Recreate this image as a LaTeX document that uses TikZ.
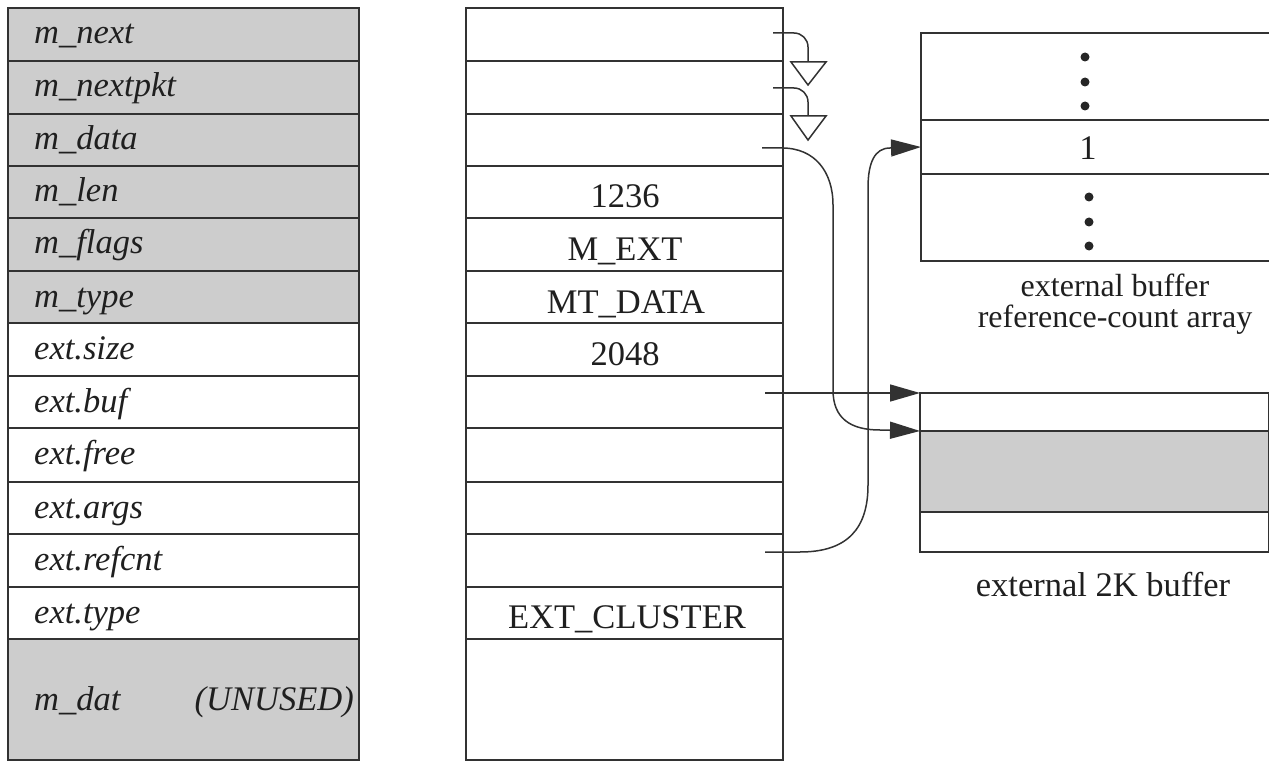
\documentclass[tikz,border=0pt]{standalone}
\usepackage{fontspec}
\setmainfont{Liberation Serif}
\usetikzlibrary{arrows.meta,calc}
\definecolor{cellgray}{RGB}{205,205,205}
\definecolor{ink}{RGB}{50,50,50}
\tikzset{
  cell/.style={draw=ink, line width=1.8pt, inner sep=0pt, outer sep=0pt, anchor=north west},
  lab/.style={inner sep=0pt, anchor=base west, text=black!88, font=\fontsize{34.5}{40}\selectfont\itshape},
  val/.style={inner sep=0pt, anchor=base, text=black!88, font=\fontsize{34.5}{40}\selectfont},
  ptr/.style={draw=ink, line width=1.5pt},
  arr/.style={ptr, -{Triangle[length=30pt,width=17pt]}},
  nullptr/.style={draw=ink, line width=1.5pt},
}
\begin{document}
\begin{tikzpicture}[x=1pt,y=-1pt]
\useasboundingbox (0,0) rectangle (1269,762);

% left column (mbuf field names)
\foreach \t/\h/\f [count=\i] in {8/53/cellgray,61/53/cellgray,114/52/cellgray,166/52/cellgray,218/53/cellgray,271/52/cellgray,323/53/white,376/52/white,428/54/white,482/52/white,534/53/white,587/52/white,639/121/cellgray}
  \node[cell, fill=\f, minimum width=351pt, minimum height=\h pt] (L\i) at (8,\t) {};

% middle column (mbuf contents)
\foreach \t/\h [count=\i] in {8/53,61/53,114/52,166/52,218/53,271/52,323/53,376/52,428/54,482/52,534/53,587/52,639/121}
  \node[cell, fill=white, minimum width=317pt, minimum height=\h pt] (M\i) at (466,\t) {};

% field labels
\foreach \t/\s [count=\i] in {8/m\_next,61/m\_nextpkt,114/m\_data,166/m\_len,218/m\_flags,271/m\_type,323/ext.size,376/ext.buf,428/ext.free,482/ext.args,534/ext.refcnt,587/ext.type}
  \node[lab] (Lt\i) at (34,\t+36) {\s};
\node[lab] (Lt13) at (34,710) {m\_dat};
\node[lab, anchor=base east] (Lu13) at (354,710) {(UNUSED)};

% values
\node[val] (V4) at (625,208) {1236};
\node[val] (V5) at (625,260) {M\_EXT};
\node[val] (V6) at (626,313) {MT\_DATA};
\node[val] (V7) at (625,365) {2048};
\node[val] (V12) at (627,628) {EXT\_CLUSTER};

% reference count array
\node[cell, fill=white, minimum width=352pt, minimum height=87pt] (R1) at (921,33) {};
\node[cell, fill=white, minimum width=352pt, minimum height=54pt] (R2) at (921,120) {};
\node[cell, fill=white, minimum width=352pt, minimum height=87pt] (R3) at (921,174) {};
\foreach \y in {57,82,106} \fill[black!85] (1085,\y) circle (4.5pt);
\foreach \y in {197,222,246} \fill[black!85] (1089,\y) circle (4.5pt);
\node[val] (Rone) at (1088,160) {1};
\node[val, anchor=north, align=center, font=\fontsize{32}{31}\selectfont] (Rc) at (1115,274) {external buffer\\reference-count array};

% external 2K buffer
\node[cell, fill=white, minimum width=348.5pt, minimum height=38pt] (B1) at (920,393) {};
\node[cell, fill=cellgray, minimum width=348.5pt, minimum height=81pt] (B2) at (920,431) {};
\node[cell, fill=white, minimum width=348.5pt, minimum height=40pt] (B3) at (920,512) {};
\node[val] (Bc) at (1103,596) {external 2K buffer};

% pointer start points
\coordinate (p1) at (773,33);
\coordinate (p2) at (773,88);
\coordinate (p3) at (762,148);
\coordinate (p8) at (765,393);
\coordinate (p11) at (765,552);
\coordinate (n1) at (808,62);
\coordinate (n2) at (808,116);

% null pointers
\draw[ptr, rounded corners=14pt] (p1) -- (808,33) -- (n1);
\draw[ptr, rounded corners=14pt] (p2) -- (808,88) -- (n2);
\draw[nullptr, line join=miter] ($(n1)+(-17,0)$) -- ($(n1)+(18,0)$) -- ($(n1)+(0,23)$) -- cycle;
\draw[nullptr, line join=miter] ($(n2)+(-17,0)$) -- ($(n2)+(18,0)$) -- ($(n2)+(0,24)$) -- cycle;

% m_data -> into buffer
\draw[arr] (p3) -- (782,148) .. controls (815,148) and (833,172) .. (833,205)
  -- (833,390) .. controls (833,418) and (850,430) .. (880,430) -- (B2.north west);

% ext.buf -> buffer start
\draw[arr] (p8) -- (B1.north west);

% ext.refcnt -> ref count
\draw[arr] (p11) -- (800,552) .. controls (848,552) and (868,528) .. (868,485)
  -- (868,188) .. controls (868,162) and (875,148) .. (890,148) -- (R2.west);
\end{tikzpicture}
\end{document}
